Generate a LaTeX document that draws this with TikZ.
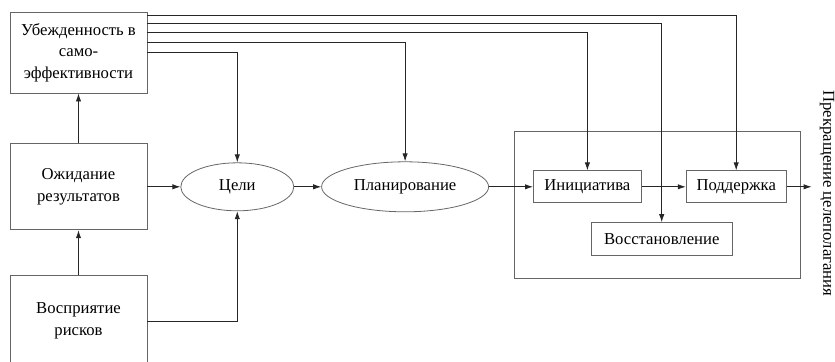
\documentclass[tikz,border=0pt]{standalone}
\usepackage{fontspec}
\setmainfont{Liberation Serif}
\usepackage{tikz}
\usetikzlibrary{arrows.meta,positioning,shapes}

\begin{document}
\begin{tikzpicture}[>={Latex[length=6pt,width=4pt]}, font=\fontsize{12.5}{16}\selectfont]

\tikzstyle{block} = [draw=black!60, rectangle, line width=0.6pt, align=center]
\tikzstyle{oval} = [draw=black!60, ellipse, line width=0.6pt]
\tikzstyle{link} = [draw=black!85, line width=0.6pt]

\useasboundingbox (0,0) rectangle (626.25pt,-270.75pt);

\node [block, minimum width=102.75pt, minimum height=60.75pt] (belief) at (58.875pt,-39.375pt) {Убежденность в\\само-\\эффективности};
\node [block, below = 37.5pt of belief, minimum width=102.75pt, minimum height=64.5pt] (outcome) {Ожидание\\результатов};
\node [block, below = 33.75pt of outcome, minimum width=102.75pt, minimum height=68pt] (risk) {Восприятие\\рисков};
\node [oval, right = 24.75pt of outcome, minimum width=84.75pt, minimum height=36pt] (goals) {Цели};
\node [oval, right = 20.25pt of goals, minimum width=125.25pt, minimum height=37.5pt] (plan) {Планирование};
\node [block, right = 33pt of plan, minimum width=81pt, minimum height=24pt] (init) {Инициатива};
\node [block, right = 33pt of init, minimum width=75pt, minimum height=24pt] (support) {Поддержка};
\node [block, below right = 14.25pt and -38.25pt of init, minimum width=105.75pt, minimum height=24.75pt] (recovery) {Восстановление};
\node [block, anchor=north west, minimum width=214.5pt, minimum height=110.25pt] (phase) at ([shift={(-14.25pt,29.25pt)}]init.north west) {};
\coordinate [right = 18.75pt of support] (stop);
\node [rotate=-90, inner sep=0pt] (end) at ([shift={(11.5pt,-5pt)}]stop) {Прекращение целеполагания};

\draw [link, ->] (outcome) -- (belief);
\draw [link, ->] (risk) -- (outcome);
\draw [link, ->] (outcome) -- (goals);
\draw [link, ->] (risk) -| (goals);
\draw [link, ->] (goals) -- (plan);
\draw [link, ->] (plan) -- (init);
\draw [link, ->] (init) -- (support);
\draw [link, ->] (support) -- (stop);
\draw [link, ->] ([yshift=-3pt]belief.north east) -| (support);
\draw [link, ->] ([yshift=-9pt]belief.north east) -| (recovery);
\draw [link, ->] ([yshift=-15.75pt]belief.north east) -| (init);
\draw [link, ->] ([yshift=-23.25pt]belief.north east) -| (plan);
\draw [link, ->] ([yshift=-30.75pt]belief.north east) -| (goals);
\end{tikzpicture}
\end{document}
